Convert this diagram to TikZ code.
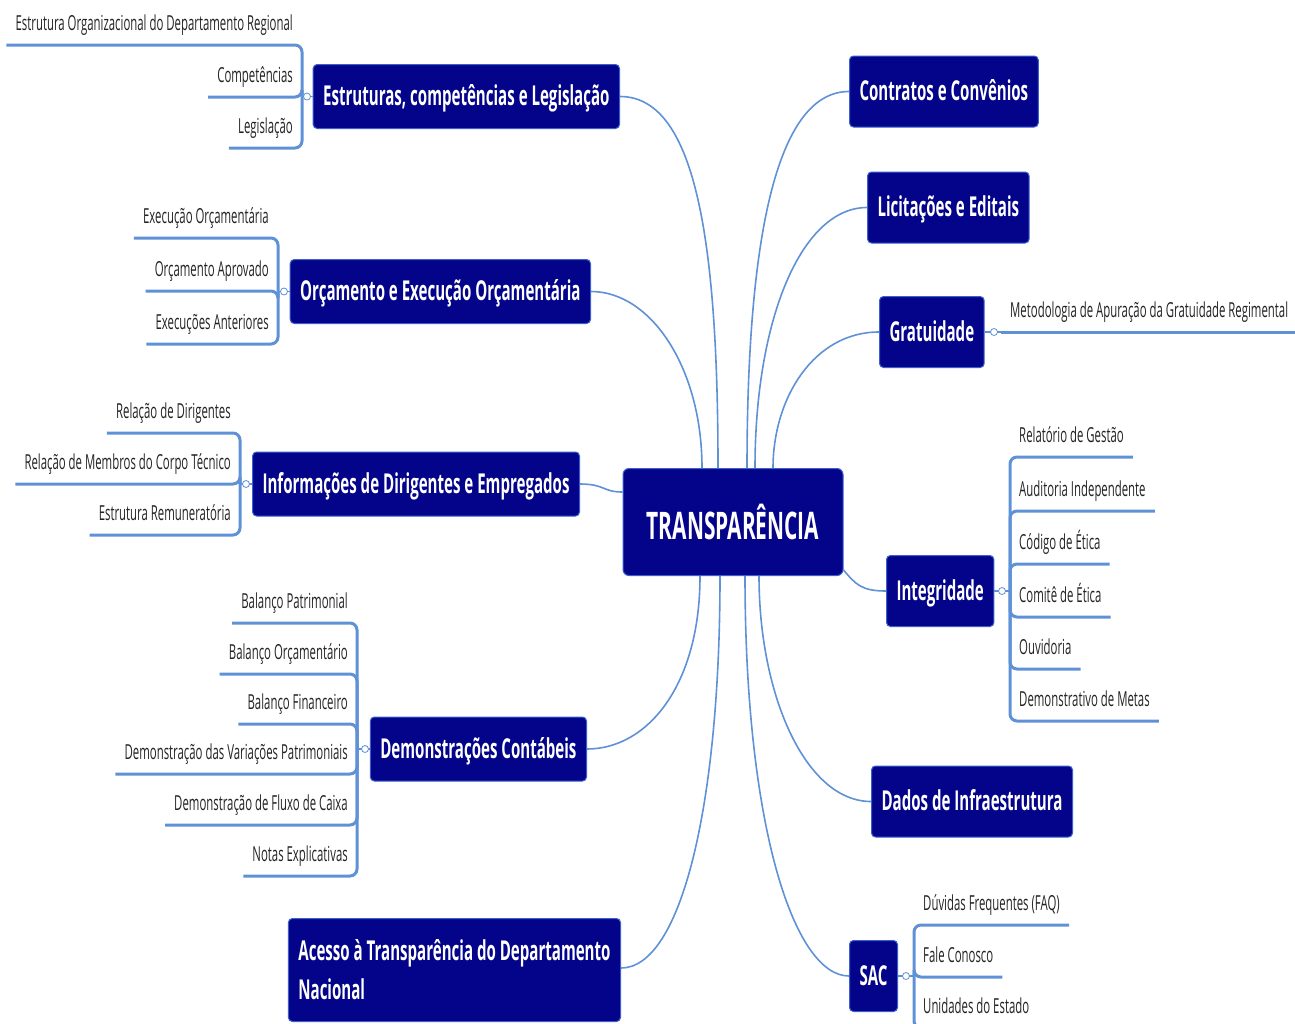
\documentclass[tikz,border=0pt]{standalone}
\usepackage{fontspec}
\setmainfont{Open Sans}[FakeStretch=0.55]
\usetikzlibrary{calc}
\definecolor{navy}{RGB}{4,4,138}
\definecolor{navyedge}{RGB}{60,95,205}
\definecolor{wire}{RGB}{95,145,215}
\definecolor{ink}{RGB}{35,35,35}

\begin{document}
\begin{tikzpicture}[x=1pt,y=-1pt,
    hub/.style={rounded corners=6pt, fill=navy, draw=navyedge, line width=1pt, text=white,
      font=\bfseries\fontsize{38}{42}\selectfont, minimum width=220pt, minimum height=107pt},
    branch/.style={rounded corners=4pt, fill=navy, draw=navyedge, line width=1pt, text=white,
      font=\bfseries\fontsize{27.4}{39}\selectfont, inner xsep=10pt, minimum height=64pt,
      text height=23pt, text depth=5pt},
    leaf/.style={text=ink, font=\fontsize{20.7}{24}\selectfont, inner xsep=9pt, inner ysep=0pt,
      text height=15pt, text depth=14pt},
    link/.style={draw=wire, line width=1.6pt},
    twig/.style={draw=wire, line width=3pt, rounded corners=7pt},
    knob/.style={circle, draw=wire, fill=white, line width=0.8pt, inner sep=0pt, minimum size=7pt}]
  \useasboundingbox (0,0) rectangle (1295,1023);

  % centre
  \node[hub] (tr) at (733,522) {TRANSPARÊNCIA};

  % left branches
  \node[branch, anchor=east] (estr) at (620,96.5) {Estruturas, competências e Legislação};
  \node[branch, anchor=east] (orc) at (591,291.5) {Orçamento e Execução Orçamentária};
  \node[branch, anchor=east] (info) at (580,484) {Informações de Dirigentes e Empregados};
  \node[branch, anchor=east] (demo) at (587,749) {Demonstrações Contábeis};
  \node[branch, anchor=north east, align=left, minimum height=103pt, text height=, text depth=] (aces)
    at (621,918) {Acesso à Transparência do Departamento\\Nacional};

  % right branches
  \node[branch, anchor=west, minimum height=71pt] (contr) at (849,91.5) {Contratos e Convênios};
  \node[branch, anchor=west, minimum height=71pt] (licit) at (867,207.5) {Licitações e Editais};
  \node[branch, anchor=west, minimum height=71pt] (grat) at (879,332) {Gratuidade};
  \node[branch, anchor=west, minimum height=71pt] (integ) at (886,591) {Integridade};
  \node[branch, anchor=west, minimum height=71pt] (dados) at (871,801.5) {Dados de Infraestrutura};
  \node[branch, anchor=west, minimum height=71pt] (sac) at (849,976) {SAC};

  % links to the centre
  \draw[link] (estr.east) .. controls +(75,0) and +(0,-230) .. ($(tr.north)+(-15,0)$);
  \draw[link] (orc.east) .. controls +(60,0) and +(0,-100) .. ($(tr.north)+(-31,0)$);
  \draw[link] (info.east) .. controls +(25,0) and +(-20,0) .. ($(tr.west)+(0,-30)$);
  \draw[link] (demo.east) .. controls +(60,0) and +(0,110) .. ($(tr.south)+(-33,0)$);
  \draw[link] ($(aces.north east)+(0,50)$) .. controls +(60,0) and +(0,230) .. ($(tr.south)+(-13,0)$);
  \draw[link] (contr.west) .. controls +(-70,0) and +(0,-240) .. ($(tr.north)+(14,0)$);
  \draw[link] (licit.west) .. controls +(-65,0) and +(0,-150) .. ($(tr.north)+(22,0)$);
  \draw[link] (grat.west) .. controls +(-65,0) and +(0,-70) .. ($(tr.north)+(40,0)$);
  \draw[link] ($(tr.east)+(0,48)$) .. controls +(12,14) and +(-25,0) .. (integ.west);
  \draw[link] (dados.west) .. controls +(-65,0) and +(0,120) .. ($(tr.south)+(26,0)$);
  \draw[link] (sac.west) .. controls +(-55,0) and +(0,250) .. ($(tr.south)+(12,0)$);

  % Estruturas
  \coordinate (b1) at (302,96.5);
  \node[leaf, anchor=south east] (e1) at (302,45) {Estrutura Organizacional do Departamento Regional};
  \node[leaf, anchor=south east] (e2) at (302,97) {Competências};
  \node[leaf, anchor=south east] (e3) at (302,148) {Legislação};
  \draw[link] (estr.west) -- (b1);
  \foreach \l in {e1,e2,e3} \draw[twig] (b1) |- (\l.south west);
  \node[knob] (k1) at (307,96.5) {};

  % Orcamento
  \coordinate (b2) at (278,291.5);
  \node[leaf, anchor=south east] (o1) at (278,238) {Execução Orçamentária};
  \node[leaf, anchor=south east] (o2) at (278,291) {Orçamento Aprovado};
  \node[leaf, anchor=south east] (o3) at (278,344) {Execuções Anteriores};
  \draw[link] (orc.west) -- (b2);
  \foreach \l in {o1,o2,o3} \draw[twig] (b2) |- (\l.south west);
  \node[knob] (k2) at (284,291.5) {};

  % Informacoes
  \coordinate (b3) at (240,484);
  \node[leaf, anchor=south east] (i1) at (240,433) {Relação de Dirigentes};
  \node[leaf, anchor=south east] (i2) at (240,484) {Relação de Membros do Corpo Técnico};
  \node[leaf, anchor=south east] (i3) at (240,535) {Estrutura Remuneratória};
  \draw[link] (info.west) -- (b3);
  \foreach \l in {i1,i2,i3} \draw[twig] (b3) |- (\l.south west);
  \node[knob] (k3) at (246,484) {};

  % Demonstracoes
  \coordinate (b4) at (357,749);
  \node[leaf, anchor=south east] (d1) at (357,623) {Balanço Patrimonial};
  \node[leaf, anchor=south east] (d2) at (357,674) {Balanço Orçamentário};
  \node[leaf, anchor=south east] (d3) at (357,724) {Balanço Financeiro};
  \node[leaf, anchor=south east] (d4) at (357,774) {Demonstração das Variações Patrimoniais};
  \node[leaf, anchor=south east] (d5) at (357,825) {Demonstração de Fluxo de Caixa};
  \node[leaf, anchor=south east] (d6) at (357,876) {Notas Explicativas};
  \draw[link] (demo.west) -- (b4);
  \foreach \l in {d1,d2,d3,d4,d5,d6} \draw[twig] (b4) |- (\l.south west);
  \node[knob] (k4) at (365,749) {};

  % Gratuidade
  \coordinate (b5) at (1001,332);
  \node[leaf, anchor=south west] (g1) at (b5) {Metodologia de Apuração da Gratuidade Regimental};
  \draw[link] (grat.east) -- (b5);
  \draw[twig] (b5) -- (g1.south east);
  \node[knob] (k5) at (994,332) {};

  % Integridade
  \coordinate (b6) at (1010,591);
  \node[leaf, anchor=south west] (n1) at (1010,457) {Relatório de Gestão};
  \node[leaf, anchor=south west] (n2) at (1010,511) {Auditoria Independente};
  \node[leaf, anchor=south west] (n3) at (1010,564) {Código de Ética};
  \node[leaf, anchor=south west] (n4) at (1010,617) {Comitê de Ética};
  \node[leaf, anchor=south west] (n5) at (1010,669) {Ouvidoria};
  \node[leaf, anchor=south west] (n6) at (1010,721) {Demonstrativo de Metas};
  \draw[link] (integ.east) -- (b6);
  \foreach \l in {n1,n2,n3,n4,n5,n6} \draw[twig] (b6) |- (\l.south east);
  \node[knob] (k6) at (1002,591) {};

  % SAC
  \coordinate (b7) at (914,976);
  \node[leaf, anchor=south west] (s1) at (914,925) {Dúvidas Frequentes (FAQ)};
  \node[leaf, anchor=south west] (s2) at (914,977) {Fale Conosco};
  \node[leaf, anchor=south west] (s3) at (914,1028) {Unidades do Estado};
  \draw[link] (sac.east) -- (b7);
  \foreach \l in {s1,s2,s3} \draw[twig] (b7) |- (\l.south east);
  \node[knob] (k7) at (906,976) {};
\end{tikzpicture}
\end{document}
